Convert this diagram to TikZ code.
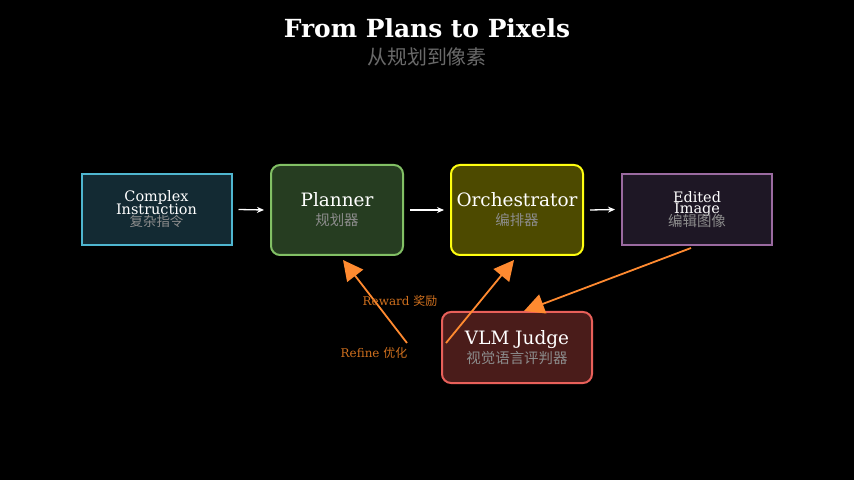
\documentclass[tikz,border=0pt]{standalone}
\usepackage{fontspec}
\setmainfont{DejaVu Serif}
\newfontfamily\cjk{Noto Sans CJK SC}
\usetikzlibrary{arrows.meta}
\definecolor{sub}{HTML}{8C8C8C}
\definecolor{org}{HTML}{FF8A30}
\definecolor{orgt}{HTML}{D0701E}
\definecolor{cif}{HTML}{132A33}\definecolor{cid}{HTML}{4FB6D0}
\definecolor{plf}{HTML}{263D21}\definecolor{pld}{HTML}{82C065}
\definecolor{orf}{HTML}{4D4A00}\definecolor{ord}{HTML}{FFFF10}
\definecolor{eif}{HTML}{1E1725}\definecolor{eid}{HTML}{9A6AA0}
\definecolor{vjf}{HTML}{4A1C1A}\definecolor{vjd}{HTML}{E8605A}
\tikzset{
 box/.style={draw,line width=2bp,minimum width=150bp,minimum height=71bp,inner sep=1bp,align=center,text=white,font=\fontsize{14.5}{15}\selectfont},
 big/.style={box,minimum width=132bp,minimum height=90bp,rounded corners=9bp,font=\fontsize{18.5}{21}\selectfont},
 flow/.style={draw=white,line width=1.3bp,-{Stealth[length=7bp,width=6bp]}},
 fb/.style={draw=org,line width=1.8bp,-{Triangle[length=20bp,width=20bp]}},
 lab/.style={text=orgt,font=\fontsize{12}{13}\selectfont},
}
\newcommand{\zh}[1]{{\cjk\color{sub}#1}}
\begin{document}
\begin{tikzpicture}[x=1bp,y=-1bp]
\fill[black] (0,0) rectangle (854,480);
\useasboundingbox (0,0) rectangle (854,480);
\node[text=white,font=\bfseries\fontsize{25}{26}\selectfont] (t) at (427,28) {From Plans to Pixels};
\node[font=\cjk\fontsize{20}{21}\selectfont,text=sub!130] (st) at (427,57) {从规划到像素};
\node[box,fill=cif,draw=cid] (ci) at (156.5,209.5) {Complex\\[-2bp]Instruction\\[-3bp]\zh{\fontsize{13.5}{14}\selectfont 复杂指令}};
\node[big,fill=plf,draw=pld] (pl) at (337,210) {Planner\\[-2bp]\zh{\fontsize{14.5}{15}\selectfont 规划器}};
\node[big,fill=orf,draw=ord] (or) at (517,210) {Orchestrator\\[-2bp]\zh{\fontsize{14.5}{15}\selectfont 编排器}};
\node[box,fill=eif,draw=eid] (ei) at (697,209.5) {Edited\\[-4bp]Image\\[-3bp]\zh{\fontsize{14.5}{15}\selectfont 编辑图像}};
\node[box,rounded corners=9bp,fill=vjf,draw=vjd,font=\fontsize{18.5}{20}\selectfont] (vj) at (517,347.5) {VLM Judge\\[-1bp]\zh{\fontsize{14.5}{15}\selectfont 视觉语言评判器}};
\draw[flow] ([xshift=6bp]ci.east) -- ([xshift=-6bp]pl.west);
\draw[flow] ([xshift=6bp]pl.east) -- ([xshift=-6bp]or.west);
\draw[flow] ([xshift=6bp]or.east) -- ([xshift=-6bp]ei.west);
\coordinate (r1) at (407,343);
\coordinate (r2) at (446,343);
\coordinate (p1) at (343,260);
\coordinate (p2) at (514,260);
\coordinate (e1) at (691,248);
\coordinate (j1) at (524,311);
\draw[fb] (r1) -- (p1);
\draw[fb] (r2) -- (p2);
\draw[fb] (e1) -- (j1);
\node[lab] (rw) at (400,301) {Reward {\cjk 奖励}};
\node[lab] (rf) at (374,353) {Refine {\cjk 优化}};
\end{tikzpicture}
\end{document}
